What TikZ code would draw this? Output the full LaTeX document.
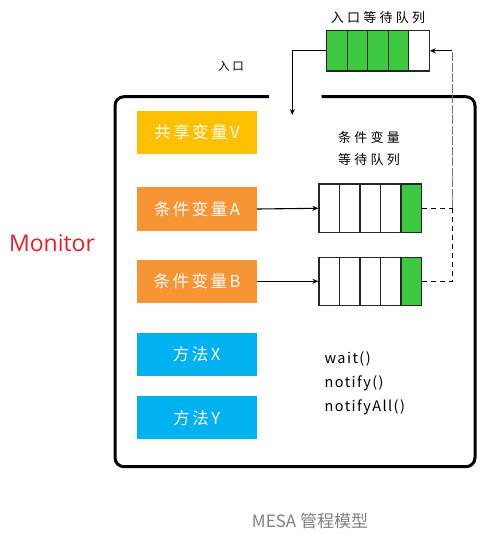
\documentclass[tikz,border=0pt]{standalone}
\usepackage{fontspec}
\setmainfont{Noto Sans CJK SC}
\newfontfamily\boxfont[LetterSpace=15]{Noto Sans CJK SC}
\newfontfamily\labelfont[LetterSpace=25]{Noto Sans CJK SC}
\newfontfamily\codefont[LetterSpace=10]{Noto Sans CJK SC}
\newfontfamily\latinfont{Open Sans}
\usetikzlibrary{arrows.meta}

\definecolor{varyellow}{HTML}{FFC000}
\definecolor{condorange}{HTML}{F79433}
\definecolor{methodblue}{HTML}{00B2F0}
\definecolor{queuegreen}{HTML}{3CC940}
\definecolor{monitorred}{HTML}{EE1C25}
\definecolor{captiongray}{HTML}{808080}

\tikzset{
    varbox/.style={minimum width=119.5pt, minimum height=43.4pt, inner sep=0pt,
        text=white, font=\boxfont\fontsize{16.5}{18}\selectfont},
    qcell/.style={draw=black!85, line width=1.2pt, minimum width=20.5pt, inner sep=0pt},
    qlabel/.style={font=\labelfont\fontsize{13}{22}\selectfont, align=center},
    link/.style={line width=1.1pt, -{Stealth[length=6pt,width=5pt]}},
    backline/.style={line width=1.1pt, dash pattern=on 5pt off 4pt},
}

\begin{document}
\begin{tikzpicture}[x=1pt, y=-1pt]
        \useasboundingbox (0,0) rectangle (498,533);

        % monitor frame with the entry gap
        \draw[line width=3pt, rounded corners=9pt]
            (269,96.7) -- (115,96.7) -- (115,466.7) -- (475,466.7) -- (475,96.7) -- (321.7,96.7);

        \node[font=\latinfont\fontsize{23}{26}\selectfont, text=monitorred] (monitor) at (52,243) {Monitor};

        % variables and methods
        \node[varbox, fill=varyellow] (shared) at (197,132.3) {共享变量V};
        \node[varbox, fill=condorange] (condA) at (197,209) {条件变量A};
        \node[varbox, fill=condorange] (condB) at (197,281.3) {条件变量B};
        \node[varbox, fill=methodblue, minimum width=120pt] (methX) at (196.7,354.3) {方法X};
        \node[varbox, fill=methodblue, minimum width=120pt] (methY) at (196.7,417.7) {方法Y};

        % entry queue
        \foreach \i/\c in {1/queuegreen,2/queuegreen,3/queuegreen,4/queuegreen,5/white}
            \node[qcell, fill=\c, minimum height=40.3pt] (qin\i) at ({316.45+20.5*\i},50.8) {};
        \node[qlabel] (qinlabel) at (378,18) {入口等待队列};
        \node[font=\labelfont\fontsize{11.5}{13}\selectfont] (entrylabel) at (231,66.7) {入口};

        % condition queues
        \foreach \i/\c in {1/white,2/white,3/white,4/white,5/queuegreen} {
            \node[qcell, fill=\c, minimum height=48.7pt] (qa\i) at ({308.75+20.5*\i},208.3) {};
            \node[qcell, fill=\c, minimum height=48pt] (qb\i) at ({308.75+20.5*\i},281.3) {};
        }
        \node[qlabel] (condlabel) at (369,149) {条件变量\\等待队列};

        \node[font=\codefont\fontsize{14.5}{23.6}\selectfont, align=left, anchor=west] (calls)
            at (321,383.3) {wait()\\notify()\\notifyAll()};

        % connectors
        \coordinate (entry) at (292.3,115);
        \coordinate (turnA) at (452.3,208.3);
        \coordinate (turnB) at (452.3,281.3);
        \coordinate (turnTop) at (452.3,50.8);

        \draw[link] (qin1.west) -| (entry);
        \draw[link] (condA.east) -- (qa1.west);
        \draw[link] (condB.east) -- (qb1.west);
        \draw[backline] (qa5.east) -- (turnA);
        \draw[backline] (qb5.east) -- (turnB) -- (turnA);
        \draw[line width=1.1pt, draw=black!55, dash pattern=on 9pt off 1.5pt] (turnA) -- (turnTop);
        \draw[link] (turnTop) -- (qin5.east);

        \node[font=\fontsize{17}{20}\selectfont, text=captiongray] (caption) at (310,521) {MESA 管程模型};

\end{tikzpicture}
\end{document}
